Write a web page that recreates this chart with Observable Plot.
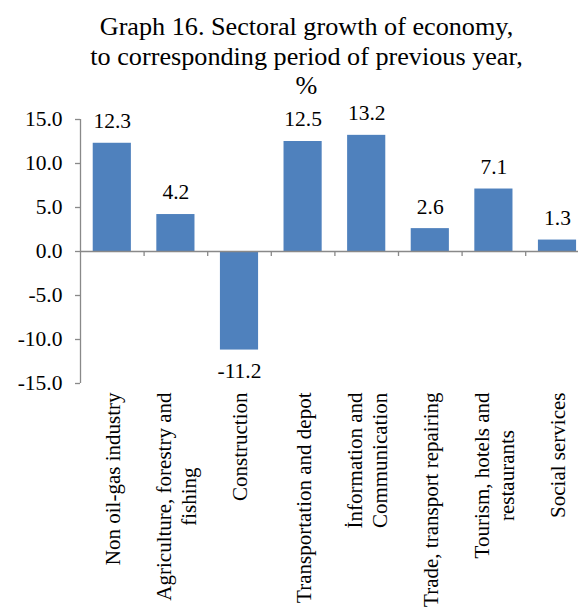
<!DOCTYPE html>
<html>
<head>
<meta charset="utf-8">
<script src="https://cdn.jsdelivr.net/npm/d3@7"></script>
<script src="https://cdn.jsdelivr.net/npm/@observablehq/plot@0.6"></script>
<style>
  body { margin: 0; background: #fff; }
  #title {
    width: 578px; height: 98px; box-sizing: border-box;
    padding: 12px 0 0 35px;
    font-family: "Liberation Serif", "Times New Roman", serif;
    font-size: 26.2px; line-height: 29.5px;
    text-align: center; color: #000;
    white-space: nowrap;
  }
</style>
</head>
<body>
<div id="title">Graph 16. Sectoral growth of economy,<br>to corresponding period of previous year,<br>%</div>
<div id="chart"></div>
<script>
// Sectors, in display order
const sectors = [
  "Non oil-gas industry",
  "Agriculture, forestry and fishing",
  "Construction",
  "Transportation and depot",
  "İnformation and Communication",
  "Trade, transport repairing",
  "Tourism, hotels and restaurants",
  "Social services"
];
// Category labels as wrapped on the axis
const sectorLabels = [
  "Non oil-gas industry",
  "Agriculture, forestry and\nfishing",
  "Construction",
  "Transportation and depot",
  "İnformation and\nCommunication",
  "Trade, transport repairing",
  "Tourism, hotels and\nrestaurants",
  "Social services"
];
// Growth to corresponding period of previous year, %
const growth = [12.3, 4.2, -11.2, 12.5, 13.2, 2.6, 7.1, 1.3];
// Value axis
const yDomain = [-15, 15];
const yTicks = [-15, -10, -5, 0, 5, 10, 15];

const data = sectors.map((s, i) => ({sector: s, label: sectorLabels[i], value: growth[i]}));

const width = 578, height = 512;
const marginLeft = 80, marginRight = -10.8, marginTop = 21, marginBottom = 227;
const step = (width - marginLeft - marginRight) / sectors.length;
const axisGray = "#898989";
const serif = "'Liberation Serif', 'Times New Roman', serif";
const fmt = v => v.toFixed(1);

const chart = Plot.plot({
  width, height, marginLeft, marginRight, marginTop, marginBottom,
  style: {fontFamily: serif, fontSize: "21.5px", color: "#000", background: "transparent"},
  x: {domain: sectors, paddingInner: 0.4, paddingOuter: 0.2, round: false, axis: null},
  y: {domain: yDomain, axis: null},
  marks: [
    Plot.barY(data, {x: "sector", y: "value", fill: "#4f81bd"}),
    // zero line and category boundary ticks
    Plot.ruleY([0], {stroke: axisGray, strokeWidth: 1.3}),
    Plot.ruleX(sectors.slice(1), {x: d => d, dx: -step / 2, y1: 0, y2: 0, insetBottom: -5, stroke: axisGray, strokeWidth: 1.3}),
    // value axis
    Plot.ruleX([sectors[0]], {x: d => d, dx: -step / 2, y1: yDomain[0], y2: yDomain[1], stroke: axisGray, strokeWidth: 1.3}),
    Plot.axisY({ticks: yTicks, tickFormat: fmt, label: null, tickSize: 5, tickPadding: 13, stroke: axisGray, strokeWidth: 1.3, fill: "#000", fontSize: "21.5px"}),
    // value labels
    Plot.text(data.filter(d => d.value >= 0), {x: "sector", y: "value", text: d => fmt(d.value), dy: -22, lineAnchor: "middle", fill: "#000", fontSize: "21.5px"}),
    Plot.text(data.filter(d => d.value < 0), {x: "sector", y: "value", text: d => fmt(d.value), dy: 21, lineAnchor: "middle", fill: "#000", fontSize: "21.5px"}),
    // category labels under the frame
    Plot.text(data, {x: "sector", frameAnchor: "bottom", text: "label", rotate: -90, textAnchor: "middle", lineAnchor: "middle", lineHeight: 1.18, fill: "#000", fontSize: "21px"})
  ]
});

document.getElementById("chart").append(chart);

// Rotated category labels: hang each label block from just below the frame,
// keeping its lines centred on one another.
const labelTop = height - marginBottom + 9;
const groups = chart.querySelectorAll('g[aria-label="text"]');
const catGroup = groups[groups.length - 1];
catGroup.querySelectorAll("text").forEach(t => {
  const spans = t.querySelectorAll("tspan");
  const len = spans.length
    ? d3.max(Array.from(spans), s => s.getComputedTextLength())
    : t.getComputedTextLength();
  const m = /translate\(([^,\s]+)[,\s]+([^)]+)\)/.exec(t.getAttribute("transform") || "");
  const x = m ? +m[1] : 0;
  t.setAttribute("transform", `translate(${x},${labelTop + len / 2}) rotate(-90)`);
});
</script>
</body>
</html>
